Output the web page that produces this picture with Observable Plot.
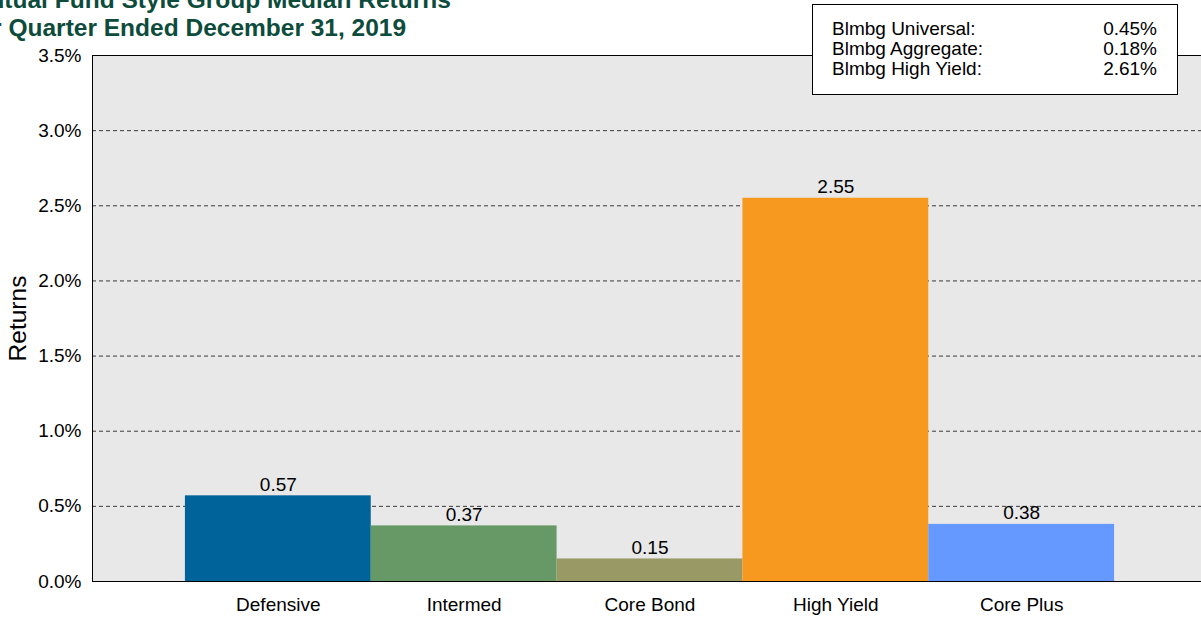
<!DOCTYPE html>
<html>
<head>
<meta charset="utf-8">
<script src="https://cdn.jsdelivr.net/npm/d3@7"></script>
<script src="https://cdn.jsdelivr.net/npm/@observablehq/plot@0.6"></script>
<style>
html, body { margin: 0; padding: 0; background: #fff; overflow: hidden; }
#wrap { position: relative; width: 1201px; height: 617px; overflow: hidden; font-family: "Liberation Sans", Arial, sans-serif; }
#chart { position: absolute; left: 0; top: 0; width: 1208px; }
#chart svg { max-width: none !important; width: 1208px !important; height: 617px !important; }
.title { position: absolute; left: -31px; font-weight: bold; font-size: 24.5px; line-height: 1; color: #0d4c3c; white-space: nowrap; z-index: 2; }
#legendbox { position: absolute; left: 812px; top: 4px; width: 366px; height: 91px; box-sizing: border-box; background: #fff; border: 1px solid #000; font-size: 19px; line-height: 20px; padding: 14px 20px 0 19px; z-index: 2; color: #000; }
.lrow { display: flex; justify-content: space-between; white-space: nowrap; }
</style>
</head>
<body>
<div id="wrap">
  <div id="chart"></div>
  <div class="title" id="t1" style="top:-11.7px"></div>
  <div class="title" id="t2" style="top:15.5px"></div>
  <div id="legendbox"></div>
</div>
<script>
const titleLines = ["Mutual Fund Style Group Median Returns", "for Quarter Ended December 31, 2019"];
const categories = ["Defensive", "Intermed", "Core Bond", "High Yield", "Core Plus"];
const returns = [0.57, 0.37, 0.15, 2.55, 0.38];
const colors = ["#00639a", "#669966", "#999966", "#f7991f", "#6699ff"];
const yTicks = [0, 0.5, 1, 1.5, 2, 2.5, 3, 3.5];
const gridTicks = [0.5, 1, 1.5, 2, 2.5, 3];
const indexNames = ["Blmbg Universal:", "Blmbg Aggregate:", "Blmbg High Yield:"];
const indexReturns = [0.45, 0.18, 2.61];

document.getElementById("t1").textContent = titleLines[0];
document.getElementById("t2").textContent = titleLines[1];
const lb = document.getElementById("legendbox");
indexNames.forEach((n, i) => {
  const row = document.createElement("div");
  row.className = "lrow";
  const a = document.createElement("span"); a.textContent = n;
  const b = document.createElement("span"); b.textContent = indexReturns[i].toFixed(2) + "%";
  row.appendChild(a); row.appendChild(b);
  lb.appendChild(row);
});

const data = categories.map((c, i) => ({category: c, value: returns[i]}));

const chart = Plot.plot({
  width: 1208,
  height: 617,
  marginTop: 55,
  marginBottom: 36,
  marginLeft: 92,
  marginRight: 1,
  style: {fontFamily: "Liberation Sans, Arial, sans-serif", fontSize: "19px", color: "#000", background: "transparent", overflow: "visible", maxWidth: "none"},
  x: {domain: categories, paddingInner: 0, paddingOuter: 0.5, round: false, label: null},
  y: {domain: [0, 3.5], label: null},
  color: {domain: categories, range: colors},
  marks: [
    Plot.frame({fill: "#e8e8e8", stroke: "none"}),
    Plot.ruleY(gridTicks, {stroke: "#3a3a3a", strokeWidth: 1, strokeDasharray: "4,3"}),
    Plot.barY(data, {x: "category", y: "value", fill: "category"}),
    Plot.text(data, {x: "category", y: "value", text: d => d.value.toFixed(2), dy: -5, lineAnchor: "bottom", fill: "#000", fontSize: 19}),
    Plot.axisY({ticks: yTicks, tickFormat: d => d.toFixed(1) + "%", tickSize: 0, tickPadding: 11, fontSize: 19, label: null}),
    Plot.axisX({tickSize: 0, tickPadding: 16, fontSize: 19, label: null}),
    Plot.ruleY([0], {stroke: "#000", strokeWidth: 1.2}),
    Plot.frame({stroke: "#000", fill: "none"}),
    Plot.text(["Returns"], {frameAnchor: "left", textAnchor: "middle", dx: -74, rotate: -90, fontSize: 24.5, fill: "#000"})
  ]
});
document.getElementById("chart").appendChild(chart);
</script>
</body>
</html>
